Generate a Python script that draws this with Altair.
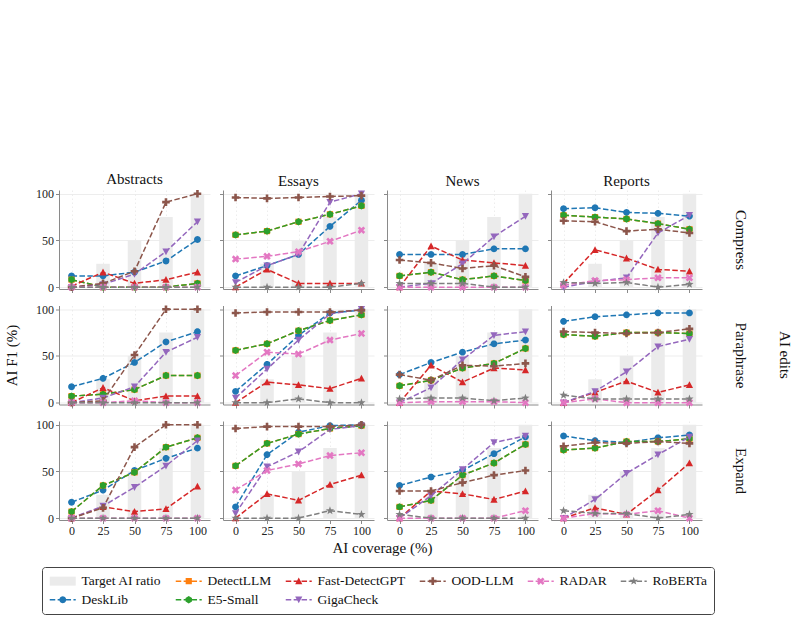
import math
import altair as alt
import pandas as pd

FONT = "Liberation Serif"

EDITS = ["Compress", "Paraphrase", "Expand"]
DOMAINS = ["Abstracts", "Essays", "News", "Reports"]
COVERAGE = [0, 25, 50, 75, 100]
TARGET = [0, 25, 50, 75, 100]
Y_TICKS = [0, 50, 100]

METHODS = ["DeskLib", "DetectLLM", "E5-Small", "Fast-DetectGPT",
           "GigaCheck", "OOD-LLM", "RADAR", "RoBERTa"]
COLORS = ["#1f77b4", "#ff7f0e", "#2ca02c", "#d62728",
          "#9467bd", "#8c564b", "#e377c2", "#7f7f7f"]
BAR_GREY = "#ebebeb"

# panel order: Compress(Abs, Ess, News, Rep), Paraphrase(...), Expand(...)
desklib = [
    [12, 12, 16, 28, 51], [12, 23, 35, 65, 93], [35, 35, 35, 41, 41], [84, 85, 80, 79, 76],
    [17, 26, 43, 65, 76], [12, 41, 72, 96, 99], [30, 43, 54, 63, 67], [87, 92, 94, 96, 96],
    [17, 30, 51, 64, 75], [12, 68, 92, 99, 100], [35, 44, 51, 69, 87], [88, 83, 81, 86, 89],
]
e5_small = [
    [8, 0, 0, 0, 4], [56, 60, 70, 78, 87], [12, 16, 8, 12, 7], [77, 75, 73, 68, 62],
    [7, 9, 14, 29, 29], [56, 63, 77, 88, 94], [18, 24, 37, 42, 58], [73, 71, 75, 75, 74],
    [7, 35, 49, 76, 86], [56, 80, 90, 96, 99], [12, 19, 46, 59, 79], [73, 75, 82, 82, 85],
]
detectllm = [
    [8, 0, 0, 0, 4], [56, 60, 70, 78, 87], [12, 16, 8, 12, 7], [77, 75, 73, 68, 62],
    [7, 9, 14, 29, 29], [56, 63, 77, 88, 94], [18, 24, 37, 42, 58], [73, 71, 75, 75, 74],
    [7, 35, 49, 76, 86], [56, 80, 90, 96, 99], [12, 19, 46, 59, 79], [73, 75, 82, 82, 85],
]
fast_detectgpt = [
    [1, 16, 4, 8, 16], [0, 19, 4, 4, 4], [0, 44, 29, 26, 23], [4, 40, 31, 19, 17],
    [0, 16, 2, 7, 7], [0, 22, 19, 15, 26], [0, 40, 22, 37, 35], [0, 11, 23, 11, 19],
    [0, 12, 7, 10, 34], [0, 26, 19, 36, 46], [0, 29, 26, 20, 29], [0, 11, 4, 30, 59],
]
gigacheck = [
    [0, 3, 14, 38, 70], [5, 23, 35, 91, 100], [0, 4, 25, 54, 76], [0, 6, 10, 58, 77],
    [0, 5, 17, 54, 70], [5, 36, 67, 95, 100], [0, 16, 46, 72, 76], [0, 12, 33, 60, 68],
    [0, 13, 33, 56, 83], [5, 55, 71, 95, 99], [0, 24, 52, 81, 88], [0, 20, 48, 68, 87],
]
ood_llm = [
    [0, 4, 17, 91, 100], [96, 95, 96, 97, 98], [29, 26, 20, 23, 11], [71, 70, 60, 62, 58],
    [0, 2, 51, 100, 100], [96, 97, 97, 97, 99], [30, 24, 40, 39, 42], [76, 75, 74, 75, 79],
    [0, 11, 76, 100, 100], [96, 98, 98, 98, 100], [29, 29, 38, 46, 51], [77, 81, 80, 82, 80],
]
radar = [
    [0, 0, 0, 0, 0], [30, 33, 38, 49, 61], [0, 0, 0, 0, 0], [2, 7, 8, 10, 10],
    [0, 0, 2, 0, 0], [29, 54, 52, 67, 74], [0, 1, 1, 1, 0], [0, 4, 0, 0, 0],
    [0, 0, 0, 0, 0], [30, 51, 58, 67, 70], [0, 0, 0, 0, 8], [0, 5, 4, 8, 0],
]
roberta = [
    [0, 0, 0, 0, 0], [0, 0, 0, 0, 4], [4, 4, 4, 0, 0], [5, 4, 5, 0, 3],
    [0, 0, 0, 0, 0], [0, 0, 4, 0, 0], [4, 5, 5, 2, 5], [8, 4, 4, 4, 4],
    [0, 0, 0, 0, 0], [0, 0, 0, 8, 4], [4, 0, 0, 0, 0], [8, 5, 5, 0, 4],
]
SERIES = [desklib, detectllm, e5_small, fast_detectgpt, gigacheck, ood_llm, radar, roberta]

rows = []
for m, table in zip(METHODS, SERIES):
    for p, vals in enumerate(table):
        for cov, v in zip(COVERAGE, vals):
            rows.append({"panel": p, "method": m, "coverage": cov, "f1": v})
df = pd.DataFrame(rows)
tgt_df = pd.DataFrame({"coverage": COVERAGE, "f1": TARGET})


# ---------- marker shapes (size=4 -> 1 path unit = 1 px) ----------
def poly(pts):
    return "M" + "L".join(f"{x:.2f},{y:.2f}" for x, y in pts) + "Z"


def ring(r, n, start=0.0, radii=None):
    pts = []
    for k in range(n):
        a = math.radians(start + 360.0 * k / n)
        rr = radii[k % len(radii)] if radii else r
        pts.append((rr * math.cos(a), rr * math.sin(a)))
    return pts


def plus_pts(e, w):
    return [(-w, -e), (w, -e), (w, -w), (e, -w), (e, w), (w, w), (w, e), (-w, e),
            (-w, w), (-e, w), (-e, -w), (-w, -w)]


def rot45(pts):
    c = math.cos(math.pi / 4)
    return [(x * c - y * c, x * c + y * c) for x, y in pts]


MARKER_PTS = {
    "DeskLib": ring(3.4, 24),
    "DetectLLM": [(-3.1, -3.1), (3.1, -3.1), (3.1, 3.1), (-3.1, 3.1)],
    "E5-Small": ring(3.7, 6, start=-90),
    "Fast-DetectGPT": [(0, -3.6), (3.6, 3.2), (-3.6, 3.2)],
    "GigaCheck": [(-3.6, -3.2), (3.6, -3.2), (0, 3.6)],
    "OOD-LLM": plus_pts(3.8, 1.3),
    "RADAR": rot45(plus_pts(4.0, 1.3)),
    "RoBERTa": ring(4.2, 10, start=-90, radii=[4.3, 1.8]),
}
MARKERS = [poly(MARKER_PTS[m]) for m in METHODS]

HALF = 13.0
DASHES = [(-13.0, -7.5), (-5.1, 0.4), (2.8, 8.3), (10.7, 13.0)]


def dash_path():
    return "".join(poly([(a, -0.75), (b, -0.75), (b, 0.75), (a, 0.75)]) for a, b in DASHES)


LEGEND_ORDER = ["Target AI ratio", "DetectLLM", "Fast-DetectGPT", "OOD-LLM", "RADAR",
                "RoBERTa", "DeskLib", "E5-Small", "GigaCheck"]
LEGEND_COLORS = [BAR_GREY] + [COLORS[METHODS.index(m)] for m in LEGEND_ORDER[1:]]
LEGEND_SHAPES = [poly([(-HALF, -4.5), (HALF, -4.5), (HALF, 4.5), (-HALF, 4.5)])] + [
    dash_path() + poly(MARKER_PTS[m]) for m in LEGEND_ORDER[1:]
]

AX_COLOR = "#8a8a8a"
TXT = "#111111"
axis_style = dict(
    labelFont=FONT, labelFontSize=12, labelColor="#222222",
    titleFont=FONT, titleFontSize=15, titleFontWeight="normal", titleColor=TXT,
    tickSize=3.5, tickColor=AX_COLOR, tickWidth=1,
    domainColor=AX_COLOR, domainWidth=1,
    gridColor="#e9e9e9", gridWidth=0.8, labelPadding=2,
)

XS = alt.Scale(domain=[-6, 106], nice=False, zero=False)
YS = alt.Scale(domain=[-2, 104], nice=False, zero=False)

LEG = alt.Legend(
    title=None, orient="none", legendX=-17, legendY=377, direction="horizontal",
    columns=6, symbolSize=4, symbolOffset=7, labelOffset=12, symbolStrokeWidth=0,
    labelFont=FONT, labelFontSize=13.5, labelColor=TXT, labelLimit=300,
    strokeColor="#444444", fillColor="white", padding=7, cornerRadius=3,
    columnPadding=13, rowPadding=4,
)


def right_label(text, pad):
    return (
        alt.Chart(tgt_df)
        .transform_filter("false")
        .mark_point()
        .encode(y=alt.Y("f1:Q", scale=YS, axis=alt.Axis(
            orient="right", title=text, labels=False, ticks=False, domain=False, grid=False,
            titleAngle=90, titlePadding=pad, titleFont=FONT, titleFontSize=15,
            titleFontWeight="normal", titleColor=TXT)))
    )


def panel(r, c):
    p = r * 4 + c
    if r == 2 and c == 0:
        xa = alt.Axis(values=COVERAGE, labels=True, title="AI coverage (%)", titleX=323, titleY=20,
                      gridDash=[1.5, 2.5], **axis_style)
    else:
        xa = alt.Axis(values=COVERAGE, labels=(r == 2), title=None, gridDash=[1.5, 2.5], **axis_style)
    if c == 0 and r == 1:
        ya = alt.Axis(values=Y_TICKS, labels=True, title="AI F1 (%)", titlePadding=16, **axis_style)
    else:
        ya = alt.Axis(values=Y_TICKS, labels=(c == 0), title=None, **axis_style)
    x = alt.X("coverage:Q", scale=XS, axis=xa)
    y = alt.Y("f1:Q", scale=YS, axis=ya)

    layers = [alt.Chart(tgt_df).mark_bar(size=13.5, color=BAR_GREY).encode(x=x, y=y, y2=alt.datum(0))]
    for m, col, shp in zip(METHODS, COLORS, MARKERS):
        layers.append(
            alt.Chart(df)
            .transform_filter(f"datum.panel == {p} && datum.method == '{m}'")
            .mark_line(color=col, strokeWidth=1.5, strokeDash=[5.5, 2.4],
                       point=alt.OverlayMarkDef(shape=shp, size=4, filled=True, color=col, opacity=1))
            .encode(x=x, y=y)
        )
    if r == 0 and c == 0:
        layers.append(
            alt.Chart(df)
            .transform_filter("false")
            .mark_point(filled=True, opacity=1, size=4)
            .encode(
                x=x, y=y,
                color=alt.Color("method:N", scale=alt.Scale(domain=LEGEND_ORDER, range=LEGEND_COLORS), legend=LEG),
                shape=alt.Shape("method:N", scale=alt.Scale(domain=LEGEND_ORDER, range=LEGEND_SHAPES), legend=LEG),
            )
        )
    ch = alt.layer(*layers)
    if c == 3:
        ch = alt.layer(ch, right_label(EDITS[r], 30)).resolve_axis(y="independent")
    ch = ch.properties(width=151, height=99)
    if r == 0:
        ch = ch.properties(title=alt.TitleParams(
            DOMAINS[c], font=FONT, fontSize=15, fontWeight="normal", color=TXT,
            anchor="middle", frame="group", offset=1))
    if r == 1 and c == 3:
        ch = ch.properties(title=alt.TitleParams(
            "AI edits", orient="right", angle=90, anchor="middle", frame="group",
            font=FONT, fontSize=15, fontWeight="normal", color=TXT, offset=30))
    return ch


panels = [panel(r, c) for r in range(3) for c in range(4)]

chart = (
    alt.concat(*panels, columns=4, spacing={"row": 16.5, "column": 13}, bounds="flush")
    .properties(padding={"left": 4, "top": 171, "right": 0, "bottom": 4})
    .configure(font=FONT)
    .configure_view(stroke=None)
)

chart.save("out.html", embed_options={"renderer": "svg", "actions": False})
